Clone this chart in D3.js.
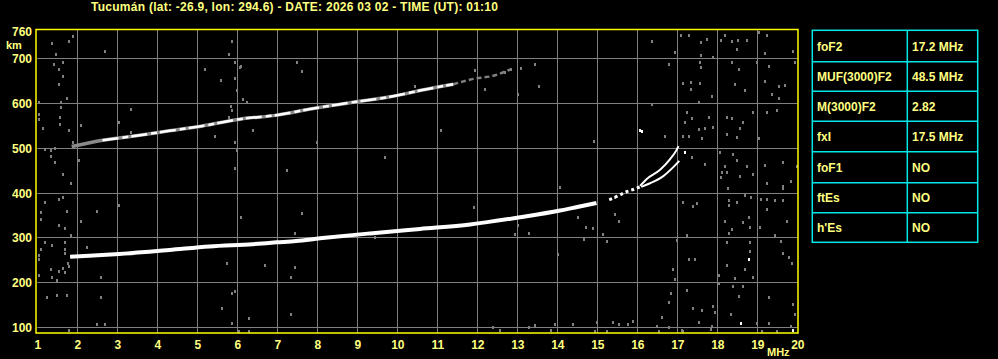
<!DOCTYPE html>
<html>
<head>
<meta charset="utf-8">
<script src="https://cdn.jsdelivr.net/npm/d3@7"></script>
<style>
  html, body { margin: 0; padding: 0; background: #000; }
  svg { display: block; }
  text { font-family: "Liberation Sans", Arial, sans-serif; font-weight: bold; fill: #ffff80; }
</style>
</head>
<body>
<svg id="chart" width="998" height="359"></svg>
<script>
// ionogram header
const title = "Tucumán (lat: -26.9, lon: 294.6) - DATE: 2026 03 02 - TIME (UT): 01:10"

// axis ticks
const freqTicks = d3.range(1, 21)             // MHz
const heightTicks = [100, 200, 300, 400, 500, 600, 700, 760] // km

// F trace, ordinary (lower)
const lowerFreq   = [1.82, 2.3, 3.05, 4.3, 5.3, 6.38, 6.98, 7.47, 8.07, 9.32, 10.57, 11.82, 13.07, 14.07, 14.5, 14.98]
const lowerHeight = [257, 259, 263, 272, 280, 285, 289, 292, 298, 309, 319, 329, 345, 360, 368, 377]

// scattered echoes near the cusp
const cuspFreq   = [15.3, 15.5, 15.73, 15.9, 16.07]
const cuspHeight = [384, 392, 402, 407, 413]

// two branches near foF2 / fxI
const oFreq   = [16.07, 16.23, 16.57, 16.82, 16.98, 17.03]
const oHeight = [415, 430, 451, 475, 495, 504]
const xFreq   = [16.1, 16.32, 16.65, 16.9, 17.05]
const xHeight = [413, 421, 437, 457, 471]

// second hop trace (upper)
const upperFreq   = [1.86, 2.63, 3.47, 4.3, 5.13, 6.13, 6.9, 7.9, 8.9, 9.82, 10.73, 11.4]
const upperHeight = [503, 517, 527, 538, 549, 565, 572, 588, 602, 614, 631, 642]
const upperTailFreq   = [11.4, 11.9, 12.4, 12.82]
const upperTailHeight = [642, 654, 661, 675]

// noise echoes [MHz, km]
const noiseEchoes = [
  [17.09,753],[17.29,753],[17.59,736],[17.73,743],[18.09,741],[18.19,753],[18.36,739],[18.51,741],[18.73,741],
  [19.03,758],[19.24,753],[16.94,715],[17.59,707],[17.9,704],[18.48,721],[19.19,712],[19.9,716],[16.38,738],
  [16.79,687],[17.58,691],[17.59,680],[18.38,691],[18.54,676],[18.99,691],[19.3,683],[19.94,691],[17.13,644],
  [17.34,646],[17.34,631],[17.58,644],[17.88,616],[18.44,643],[18.69,630],[19.19,650],[19.38,620],[19.53,639],
  [19.54,611],[19.69,641],[16.38,598],[17.55,603],[17.23,581],[17.36,566],[17.78,570],[17.19,557],[17.53,542],
  [17.69,544],[17.9,546],[17.3,527],[17.61,521],[17.14,527],[18.25,570],[18.36,566],[18.57,544],[18.65,558],
  [18.89,579],[18.25,531],[18.49,524],[19.24,581],[19.49,585],[19.03,521],[16.69,527],[17.36,479],[17.69,464],
  [18.07,491],[18.4,486],[18.19,460],[18.11,445],[18.25,447],[18.09,434],[18.57,438],[18.75,460],[18.9,442],
  [19.19,462],[19.24,422],[19.65,469],[19.64,415],[19.64,410],[19.84,427],[19.99,460],[18.49,473],[18.26,410],
  [17.14,378],[17.38,371],[17.5,377],[18.3,384],[18.49,378],[18.69,395],[18.3,372],[18.84,390],[19.09,386],
  [19.25,386],[19.44,384],[19.64,384],[19.24,364],[18.19,337],[18.65,334],[18.78,345],[18.82,323],[19.74,337],
  [19.07,324],[18.36,319],[17.24,306],[18.28,311],[19.44,306],[16.98,294],[18.25,289],[18.82,289],[18.82,270],
  [19.59,293],[19.64,265],[19.79,256],[17.29,252],[17.44,252],[18.25,238],[16.89,230],[16.94,207],[18.69,230],
  [18.9,211],[18.44,209],[19.86,243],[18.04,216],[17.24,183],[18.05,198],[18.39,191],[18.55,170],[18.64,192],
  [16.84,177],[16.79,156],[17.4,142],[17.63,139],[17.89,148],[17.94,133],[18.34,129],[19.28,166],[19.89,151],
  [19.94,129],[16.63,122],[17.53,112],[17.86,103],[17.84,96],[18.98,110],[19.3,109],[19.11,92],[19.49,92],
  [19.84,103],[16.78,99],[17.14,92],
  [1.38,734],[1.78,739],[1.89,749],[1.47,710],[2.69,717],[1.43,687],[1.64,692],[1.53,675],[1.64,661],[1.53,643],
  [1.73,611],[1.03,603],[1.58,603],[1.59,591],[1.57,570],[1.57,553],[1.03,576],[1.03,564],[1.13,545],[1.78,541],
  [2.09,550],[3.34,587],[3.03,558],[3.34,536],[1.89,514],[1.18,497],[1.34,496],[1.44,499],[1.34,482],[1.44,469],
  [2.03,474],[1.64,442],[1.84,422],[1.19,378],[1.53,386],[1.64,391],[1.09,356],[1.09,341],[1.74,360],[2.09,337],
  [2.49,360],[3.03,373],[1.53,328],[1.69,320],[1.84,306],[1.69,289],[1.19,289],[1.38,283],[1.09,274],[1.69,274],
  [1.03,261],[1.03,252],[1.69,265],[2.24,278],[1.76,244],[1.34,230],[1.53,226],[1.69,222],[1.64,232],[1.78,236],
  [1.03,216],[1.38,211],[1.49,206],[2.59,211],[1.24,168],[1.49,171],[1.74,171],[2.59,168],[2.49,107],[2.69,107],
  [1.78,93],[5.78,710],[5.88,739],[5.94,692],[6.09,682],[5.19,675],[5.59,652],[5.94,655],[5.98,630],[6.15,608],
  [6.24,603],[5.84,593],[5.87,585],[5.79,570],[7.49,692],[7.63,672],[5.45,527],[5.94,514],[5.98,496],[6.39,541],
  [7.98,514],[7.23,451],[5.94,455],[6.09,346],[7.63,355],[7.45,310],[5.74,244],[6.69,238],[7.45,235],[7.34,212],
  [5.94,181],[5.88,177],[5.63,142],[6.29,120],[7.34,129],[5.88,109],[6.03,90],[6.29,90],[6.07,681],[10.44,638],
  [11.94,674],[12.18,631],[13.03,620],[13.09,679],[13.44,687],[13.54,639],[12.69,670],[12.84,676],[9.44,302],
  [11.93,369],[13.03,328],[12.93,307],[13.28,311],[14.07,413],[14.53,346],[14.72,324],[14.88,320],[15.13,307],
  [15.23,292],[15.44,391],[15.44,352],[15.53,337],[14.67,296],[14.03,262],[14.92,515],[13.44,104],[13.94,107],
  [14.38,107],[14.98,112],[15.4,112],[15.55,107],[15.77,107],[15.9,114],[16.79,101],[12.57,93],[13.83,93],
  [14.94,90],[15.23,90],[16.54,90],[17.12,93],[13.28,99],[16.48,103],[17.53,112],[2.49,107],[5.88,110],
  [6.04,90],[12.4,99],[11.1,540],[9.7,480]
]
const whiteEchoes = [[16.11,537],[17.19,490],[18.79,252],[18.59,108],[16.07,540],[19.9,93]]

// parameter table
const tableParams = ["foF2", "MUF(3000)F2", "M(3000)F2", "fxI", "foF1", "ftEs", "h'Es"]
const tableValues = ["17.2 MHz", "48.5 MHz", "2.82", "17.5 MHz", "NO", "NO", "NO"]

const svg = d3.select("#chart")

const x = d3.scaleLinear().domain([1, 20]).range([37.3, 797.3])
const y = d3.scaleLinear().domain([86.6, 764.3]).range([333, 29.5])

// title
svg.append("text")
  .attr("x", 91).attr("y", 11)
  .attr("textLength", 407).attr("lengthAdjust", "spacing")
  .style("font-size", "12px")
  .text(title)

// grid
const grid = svg.append("g").attr("stroke", "#808080").attr("stroke-width", 1)
grid.selectAll(".vg").data(freqTicks.filter(d => d > 1 && d < 20)).enter()
  .append("line")
  .attr("x1", d => Math.round(x(d)) + 0.5).attr("x2", d => Math.round(x(d)) + 0.5)
  .attr("y1", y.range()[1]).attr("y2", y.range()[0])
grid.selectAll(".hg").data(heightTicks.filter(d => d < 760)).enter()
  .append("line")
  .attr("x1", x.range()[0]).attr("x2", x.range()[1])
  .attr("y1", d => Math.round(y(d)) + 0.5).attr("y2", d => Math.round(y(d)) + 0.5)

// noise echoes
svg.append("g").attr("fill", "#808080")
  .selectAll("rect").data(noiseEchoes).enter()
  .append("rect")
  .attr("x", d => Math.round(x(d[0])) - 1).attr("y", d => Math.round(y(d[1])) - 1)
  .attr("width", 2).attr("height", 3)
svg.append("g").attr("fill", "#ffffff")
  .selectAll("rect").data(whiteEchoes).enter()
  .append("rect")
  .attr("x", d => Math.round(x(d[0])) - 1).attr("y", d => Math.round(y(d[1])) - 1)
  .attr("width", 2).attr("height", 3)

// traces
const line = d3.line().x(d => x(d[0])).y(d => y(d[1])).curve(d3.curveMonotoneX)
const pairs = (f, h) => f.map((v, i) => [v, h[i]])

svg.append("path").datum(pairs(upperTailFreq, upperTailHeight))
  .attr("d", line).attr("fill", "none")
  .attr("stroke", "#808080").attr("stroke-width", 2.5).attr("stroke-dasharray", "5,3")
svg.append("path").datum(pairs(upperFreq, upperHeight))
  .attr("d", line).attr("fill", "none")
  .attr("stroke", "#8a8a8a").attr("stroke-width", 3.5)
svg.append("path").datum(pairs(upperFreq.slice(1), upperHeight.slice(1)))
  .attr("d", line).attr("fill", "none")
  .attr("stroke", "#ffffff").attr("stroke-width", 2.5).attr("stroke-dasharray", "16,4,6,3")

svg.append("path").datum(pairs(lowerFreq, lowerHeight))
  .attr("d", line).attr("fill", "none")
  .attr("stroke", "#ffffff").attr("stroke-width", 4)
svg.append("path").datum(pairs(cuspFreq, cuspHeight))
  .attr("d", line).attr("fill", "none")
  .attr("stroke", "#ffffff").attr("stroke-width", 3).attr("stroke-dasharray", "3,3")
svg.append("path").datum(pairs(oFreq, oHeight))
  .attr("d", line).attr("fill", "none")
  .attr("stroke", "#ffffff").attr("stroke-width", 2)
svg.append("path").datum(pairs(xFreq, xHeight))
  .attr("d", line).attr("fill", "none")
  .attr("stroke", "#ffffff").attr("stroke-width", 2)

// frame
svg.append("rect")
  .attr("x", 36).attr("y", 29.5)
  .attr("width", 762).attr("height", 303.5)
  .attr("fill", "none").attr("stroke", "#ffff00").attr("stroke-width", 1.5)

// axes labels
const xAxis = d3.axisBottom(x).tickValues(freqTicks).tickSize(0).tickPadding(0).tickFormat(d3.format("d"))
const gx = svg.append("g").attr("transform", "translate(0,349)").call(xAxis)
gx.select(".domain").remove()
gx.selectAll("text").attr("fill", null).attr("dy", 0).style("font-size", "12px")

const yAxis = d3.axisLeft(y).tickValues(heightTicks).tickSize(0).tickPadding(0).tickFormat(d3.format("d"))
const gy = svg.append("g").attr("transform", "translate(32,0)").call(yAxis)
gy.select(".domain").remove()
gy.selectAll("text").attr("fill", null).attr("dy", "0.38em").style("font-size", "12px")
gy.selectAll(".tick").filter(d => d === 760).attr("transform", "translate(0,31)")

svg.append("text").attr("x", 6).attr("y", 49).style("font-size", "11px").text("km")
svg.append("text").attr("x", 767).attr("y", 356).style("font-size", "11px").text("MHz")

// parameter table
const tbl = svg.append("g")
const rowTop = [30.3, 61.7, 91.3, 121.3, 151.7, 182.7, 212.7, 242.3]
const colX = [812.3, 907.3, 977.7]
tbl.append("rect")
  .attr("x", colX[0]).attr("y", rowTop[0])
  .attr("width", colX[2] - colX[0]).attr("height", rowTop[7] - rowTop[0])
  .attr("fill", "none").attr("stroke", "#00e8e8").attr("stroke-width", 1.5)
tbl.selectAll(".rl").data(rowTop.slice(1, 7)).enter().append("line")
  .attr("x1", colX[0]).attr("x2", colX[2]).attr("y1", d => d).attr("y2", d => d)
  .attr("stroke", "#00e8e8").attr("stroke-width", 1.5)
tbl.append("line")
  .attr("x1", colX[1]).attr("x2", colX[1]).attr("y1", rowTop[0]).attr("y2", rowTop[7])
  .attr("stroke", "#00e8e8").attr("stroke-width", 1.5)
tbl.selectAll(".pn").data(tableParams).enter().append("text")
  .attr("x", 817).attr("y", (d, i) => (rowTop[i] + rowTop[i + 1]) / 2 + 4.5)
  .style("font-size", "12px").text(d => d)
tbl.selectAll(".pv").data(tableValues).enter().append("text")
  .attr("x", 912).attr("y", (d, i) => (rowTop[i] + rowTop[i + 1]) / 2 + 4.5)
  .style("font-size", "12px").text(d => d)
</script>
</body>
</html>
